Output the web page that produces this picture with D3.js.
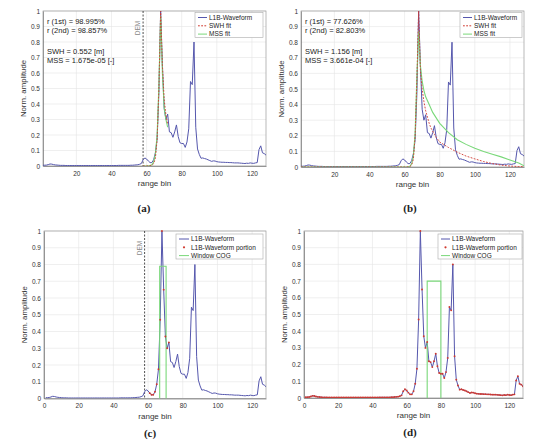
<!DOCTYPE html>
<html><head><meta charset="utf-8">
<script src="https://cdn.jsdelivr.net/npm/d3@7"></script>
<style>
body{margin:0;background:#fff;}
svg text{font-family:"Liberation Sans",Arial,sans-serif;}
svg text.cap{font-family:"Liberation Serif","Times New Roman",serif;font-weight:bold;}
</style></head>
<body><svg id="c" width="550" height="446"></svg>
<script>
// ---- data ----
const bins = d3.range(1, 129);
const waveform = [
0.005,0.005,0.006,0.009,0.013,0.012,0.009,0.007,0.006,0.005,
0.004,0.004,0.004,0.003,0.003,0.003,0.003,0.003,0.003,0.003,
0.003,0.003,0.003,0.003,0.003,0.003,0.003,0.003,0.003,0.003,
0.003,0.003,0.003,0.003,0.003,0.003,0.003,0.003,0.003,0.003,
0.003,0.003,0.003,0.004,0.004,0.004,0.004,0.004,0.004,0.004,
0.005,0.005,0.006,0.007,0.008,0.011,0.016,0.040,0.052,0.045,
0.032,0.022,0.022,0.040,0.085,0.175,0.470,1.000,0.650,0.370,
0.300,0.335,0.220,0.215,0.185,0.220,0.265,0.190,0.150,0.145,
0.145,0.120,0.155,0.240,0.545,0.525,0.800,0.250,0.110,0.075,
0.050,0.052,0.048,0.045,0.040,0.035,0.030,0.033,0.032,0.028,
0.026,0.025,0.024,0.024,0.023,0.023,0.022,0.022,0.021,0.020,
0.020,0.020,0.019,0.018,0.017,0.016,0.018,0.017,0.020,0.018,
0.017,0.020,0.022,0.105,0.130,0.085,0.080,0.070];

const fitBinsA = [58,59,60,61,62,63,64,65,66,67,68,69,70,71,72];
const swhFitA  = [0,0,0,0.001,0.002,0.005,0.015,0.05,0.17,0.50,1.0,0.65,0.43,0.33,0.27];
const mssFitA  = [0,0,0,0.001,0.003,0.008,0.025,0.075,0.20,0.52,0.97,0.60,0.38,0.30,0.25];

const swhBinsB = [1,61,62,63,64,65,66,67,68,69,70,71,72,73,74,75,76,77,78,79,80,85,90,95,100,105,110,115,120,125,128];
const swhFitB  = [0,0,0.001,0.003,0.012,0.05,0.20,0.56,1.0,0.62,0.50,0.42,0.36,0.32,0.28,0.25,0.23,0.21,0.19,0.175,0.16,0.125,0.095,0.07,0.052,0.035,0.022,0.012,0.006,0.003,0.002];
const mssBinsB = [1,61,62,63,64,65,66,67,68,69,70,71,72,74,76,80,85,90,95,100,105,110,115,120,125,128];
const mssFitB  = [0,0,0.002,0.005,0.02,0.07,0.22,0.58,0.87,0.65,0.55,0.49,0.45,0.40,0.35,0.28,0.22,0.175,0.145,0.12,0.10,0.082,0.065,0.045,0.025,0.008];

const portionBinsC = [61,62,63,64,65,66,67,68,69,70,71,72];
const cogC = {x0: 66.7, x1: 70.4, h: 0.79};
const cogD = {x0: 72, x1: 80, h: 0.70};
const demBin = 58;

const xTicks = [0,20,40,60,80,100,120];
const yTicks = d3.range(0, 11).map(i => i/10);

const statsA = ["r (1st) = 98.995%","r (2nd) = 98.857%","SWH = 0.552 [m]","MSS = 1.675e-05 [-]"];
const statsB = ["r (1st) = 77.626%","r (2nd) = 82.803%","SWH = 1.156 [m]","MSS = 3.661e-04 [-]"];

// ---- styles ----
const BLUE = "#5557ad", RED = "#d0392f", GREEN = "#79d879";

const svg = d3.select("#c");

function panel(o){
  const g = svg.append("g");
  const x = d3.scaleLinear().domain(o.xdom).range([o.l, o.r]);
  const y = d3.scaleLinear().domain([0,1]).range([o.b, o.t]);
  // grid
  const xt = xTicks.filter(v => v >= o.xdom[0] && v <= o.xdom[1]);
  g.append("g").selectAll("line").data(xt).join("line")
    .attr("x1", d=>x(d)).attr("x2", d=>x(d)).attr("y1", o.t).attr("y2", o.b)
    .attr("stroke", "#e4e4e4").attr("stroke-width", 0.6);
  g.append("g").selectAll("line").data(yTicks).join("line")
    .attr("x1", o.l).attr("x2", o.r).attr("y1", d=>y(d)).attr("y2", d=>y(d))
    .attr("stroke", "#e4e4e4").attr("stroke-width", 0.6);
  // box
  g.append("rect").attr("x", o.l).attr("y", o.t).attr("width", o.r-o.l).attr("height", o.b-o.t)
    .attr("fill","none").attr("stroke","#9a9a9a").attr("stroke-width",0.7);
  // axes
  const ax = g.append("g").attr("transform", `translate(0,${o.b})`)
    .call(d3.axisBottom(x).tickValues(xt).tickSize(0).tickPadding(5).tickFormat(d3.format("d")));
  const ay = g.append("g").attr("transform", `translate(${o.l},0)`)
    .call(d3.axisLeft(y).tickValues(yTicks).tickSize(0).tickPadding(3).tickFormat(d => d===0?"0":d===1?"1":d3.format(".1f")(d)));
  [ax, ay].forEach(a => {
    a.select(".domain").attr("stroke","#777").attr("stroke-width",0.7);
    a.selectAll("text").attr("font-size", 6.5).attr("fill","#333");
  });
  // labels
  g.append("text").attr("x",(o.l+o.r)/2).attr("y",o.b+20).attr("text-anchor","middle")
    .attr("font-size",8).attr("fill","#333").text("range bin");
  g.append("text").attr("transform",`translate(${o.l-17},${(o.t+o.b)/2}) rotate(-90)`)
    .attr("text-anchor","middle").attr("font-size",7.8).attr("fill","#333").text("Norm. amplitude");
  g.append("text").attr("class","cap").attr("x",o.capX).attr("y",o.b+o.capDy).attr("text-anchor","middle")
    .attr("font-size",11).attr("fill","#222").text(o.cap);

  const clip = "clip" + o.cap.replace(/\W/g,"");
  g.append("clipPath").attr("id", clip).append("rect")
    .attr("x",o.l).attr("y",o.t-2).attr("width",o.r-o.l).attr("height",o.b-o.t+2);
  const pg = g.append("g").attr("clip-path", `url(#${clip})`);
  const line = d3.line().x(d=>x(d[0])).y(d=>y(d[1]));

  if (o.dem){
    pg.append("line").attr("x1",x(demBin)).attr("x2",x(demBin)).attr("y1",o.t).attr("y2",o.b)
      .attr("stroke","#222").attr("stroke-width",0.8).attr("stroke-dasharray","2,1.5");
    g.append("text").attr("transform",`translate(${x(demBin)-3},${o.t+17}) rotate(-90)`)
      .attr("text-anchor","middle").attr("font-size",6.5).attr("fill","#888").text("DEM");
  }
  // waveform
  pg.append("path").attr("d", line(bins.map((b,i)=>[b, waveform[i]])))
    .attr("fill","none").attr("stroke",BLUE).attr("stroke-width",1);
  if (o.fits){
    o.fits.forEach(f => {
      pg.append("path").attr("d", line(f.bins.map((b,i)=>[b,f.vals[i]])))
        .attr("fill","none").attr("stroke",f.color).attr("stroke-width",f.w)
        .attr("stroke-dasharray", f.dash || null);
    });
  }
  if (o.cog){
    pg.append("path").attr("d", line([[o.cog.x0,0],[o.cog.x0,o.cog.h],[o.cog.x1,o.cog.h],[o.cog.x1,0]]))
      .attr("fill","none").attr("stroke",GREEN).attr("stroke-width",1.1);
  }
  if (o.portion){
    pg.selectAll("circle.m").data(o.portion).join("circle")
      .attr("cx", b=>x(b)).attr("cy", b=>y(waveform[b-1])).attr("r",0.95).attr("fill",RED);
  }
  if (o.stats){
    const sy = [o.t+13, o.t+22, o.t+43, o.t+52];
    o.stats.forEach((s,i)=> g.append("text").attr("x",o.l+4).attr("y",sy[i])
      .attr("font-size",7.5).attr("fill","#222").text(s));
  }
  // legend
  const L = o.legend;
  g.append("rect").attr("x",L.x).attr("y",L.y).attr("width",L.w).attr("height",25)
    .attr("fill","#fff").attr("stroke","#aaa").attr("stroke-width",0.6);
  L.items.forEach((it,i)=>{
    const yy = L.y + 5 + i*8.3;
    if (it.type === "dot"){
      g.append("circle").attr("cx",L.x+L.s/2+3).attr("cy",yy).attr("r",1.1).attr("fill",RED);
    } else {
      g.append("line").attr("x1",L.x+3).attr("x2",L.x+3+L.s).attr("y1",yy).attr("y2",yy)
        .attr("stroke",it.color).attr("stroke-width",1).attr("stroke-dasharray",it.dash||null);
    }
    g.append("text").attr("x",L.x+L.s+5).attr("y",yy+2.3).attr("font-size",6.5).attr("fill","#222").text(it.label);
  });
}

const legFit = [
  {label:"L1B-Waveform", color:BLUE},
  {label:"SWH fit", color:RED, dash:"1.8,1.4"},
  {label:"MSS fit", color:GREEN}];
const legCog = [
  {label:"L1B-Waveform", color:BLUE},
  {label:"L1B-Waveform portion", type:"dot"},
  {label:"Window COG", color:GREEN}];

panel({l:43, r:266, t:11, b:166, xdom:[1,128], cap:"(a)", capX:144, capDy:46, dem:true,
  stats: statsA,
  fits:[{bins:fitBinsA, vals:mssFitA, color:GREEN, w:1.1},
        {bins:fitBinsA, vals:swhFitA, color:RED, w:0.9, dash:"1.8,1.4"}],
  legend:{x:195, y:12.5, w:68, s:9, items:legFit}});
panel({l:301, r:524, t:11, b:167, xdom:[1,128], cap:"(b)", capX:410, capDy:45,
  stats: statsB,
  fits:[{bins:mssBinsB, vals:mssFitB, color:GREEN, w:1.1},
        {bins:swhBinsB, vals:swhFitB, color:RED, w:0.9, dash:"1.8,1.4"}],
  legend:{x:460, y:12.5, w:62, s:9, items:legFit}});
panel({l:44, r:266, t:231, b:398.5, xdom:[0,128], cap:"(c)", capX:150, capDy:38, dem:true,
  cog: cogC, portion: portionBinsC,
  legend:{x:176, y:234, w:87, s:10, items:legCog}});
panel({l:304, r:523, t:231, b:398, xdom:[0,128], cap:"(d)", capX:410, capDy:38,
  cog: cogD, portion: bins,
  legend:{x:438, y:234, w:84, s:9, items:legCog}});
</script></body></html>
